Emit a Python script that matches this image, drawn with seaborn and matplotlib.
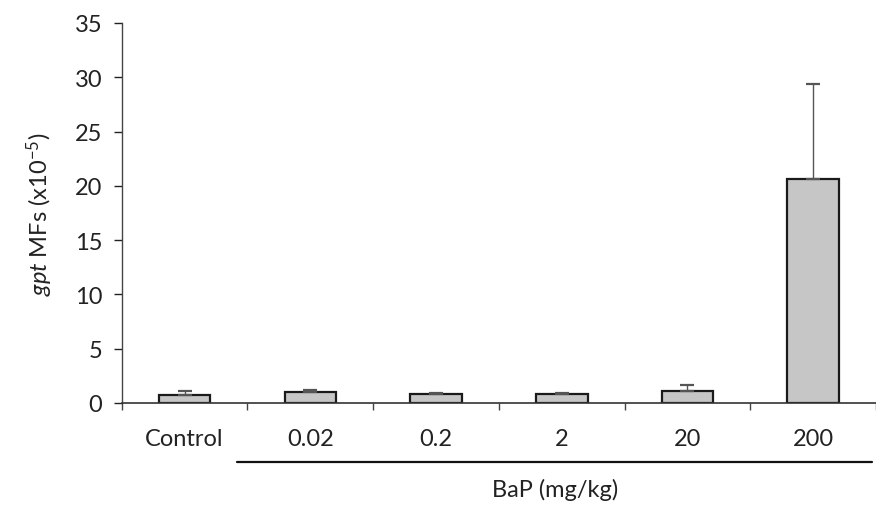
import numpy as np
import pandas as pd
import matplotlib
matplotlib.use('Agg')
import matplotlib.pyplot as plt
import seaborn as sns

# values
doses = ['Control', '0.02', '0.2', '2', '20', '200']
mf_mean = [0.75, 1.0, 0.8, 0.85, 1.1, 20.6]
mf_err = [0.35, 0.2, 0.15, 0.1, 0.6, 8.8]

df = pd.DataFrame({'dose': doses, 'mf': mf_mean})

sns.set_style('white')
plt.rcParams['font.family'] = ['Lato', 'DejaVu Sans']
plt.rcParams['mathtext.fontset'] = 'custom'
plt.rcParams['mathtext.it'] = 'Lato:italic'
plt.rcParams['mathtext.rm'] = 'Lato'

fig = plt.figure(figsize=(8.76, 5.06), dpi=100)
ax = fig.add_axes([0.139, 0.2016, 0.861, 0.751])

sns.barplot(data=df, x='dose', y='mf', color='#c6c6c6', width=0.41,
            edgecolor='#1a1a1a', linewidth=1.6, saturation=1, ax=ax)
x = np.arange(len(doses))
ax.errorbar(x, mf_mean, yerr=[np.zeros(len(doses)), mf_err], fmt='none',
            ecolor='#555555', elinewidth=1.0, capsize=5, capthick=1.6)

ax.set_xlim(-0.5, 5.47)
ax.set_ylim(0, 35)
ax.set_yticks(range(0, 36, 5))
ax.set_xticks(x)
ax.set_xticklabels(doses)
ax.set_xticks(np.arange(-0.5, 5.6, 1), minor=True)
ax.tick_params(axis='x', which='major', length=0, pad=18, labelsize=17, colors='#222222')
ax.tick_params(axis='x', which='minor', length=5, direction='out', width=1, color='#444444', bottom=True)
ax.tick_params(axis='y', length=6, direction='out', width=1, left=True, labelsize=17,
               colors='#222222', pad=8)
ax.set_xlabel('')
ax.set_ylabel(r'$\mathit{gpt}$ MFs (x10$^{\mathregular{-5}}$)', fontsize=17, color='#222222', labelpad=14)

sns.despine(ax=ax)
ax.spines['left'].set_color('#444444')
ax.spines['bottom'].set_color('#333333')
ax.spines['left'].set_linewidth(1.0)
ax.spines['bottom'].set_linewidth(1.2)

# group line under the BaP doses
trans = ax.get_xaxis_transform()
ax.plot([0.42, 5.47], [-0.155, -0.155], transform=trans, color='#111111', lw=1.6, clip_on=False)
ax.text(2.95, -0.225, 'BaP (mg/kg)', transform=trans, ha='center', va='center',
        fontsize=17, color='#222222')

fig.savefig('out.png', dpi=100)
